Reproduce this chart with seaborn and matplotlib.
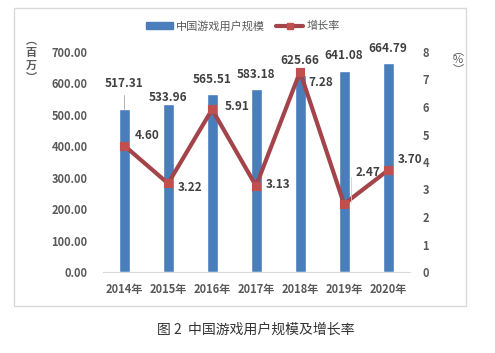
import matplotlib
matplotlib.use("Agg")
import matplotlib.pyplot as plt
import seaborn as sns
import pandas as pd
from matplotlib.patches import Rectangle, Patch
from matplotlib.lines import Line2D

years = ["2014年", "2015年", "2016年", "2017年", "2018年", "2019年", "2020年"]
users = [517.31, 533.96, 565.51, 583.18, 625.66, 641.08, 664.79]
growth = [4.60, 3.22, 5.91, 3.13, 7.28, 2.47, 3.70]
left_ticks = [0, 100, 200, 300, 400, 500, 600, 700]
right_ticks = [0, 1, 2, 3, 4, 5, 6, 7, 8]

sns.set_style("white")
plt.rcParams['font.family'] = ['Noto Sans CJK SC', 'DejaVu Sans']

df = pd.DataFrame({"year": years, "users": users, "growth": growth})

BLUE = "#4A7EBB"
RED_LINE = "#A3444B"
RED_MK = "#C0504D"
TXT = "#595959"
LAB = "#404040"

fig = plt.figure(figsize=(4.95, 3.53), dpi=100)
fig.patch.set_facecolor("white")
fig.patches.append(Rectangle((14/495, 1-306/353), 452/495, 298/353, transform=fig.transFigure,
                             fill=False, edgecolor="#D9D9D9", linewidth=1.0))

ax = fig.add_axes([103/495, 1-272/353, 307/495, 220/353])
sns.barplot(data=df, x="year", y="users", color=BLUE, width=0.25, ax=ax, saturation=1)
ax.set_ylim(0, 700)
ax.set_xlim(-0.48, 6.5)
ax.set_yticks(left_ticks)
ax.set_yticklabels([f"{v:.2f}" for v in left_ticks])
ax.set_xlabel("")
ax.set_ylabel("")
for s in ["top", "right", "left"]:
    ax.spines[s].set_visible(False)
ax.spines["bottom"].set_color("#D9D9D9")
ax.tick_params(axis="y", length=0, labelsize=8, labelcolor=TXT, pad=11)
ax.tick_params(axis="x", length=0, labelsize=8, labelcolor=TXT, pad=8)
for lab in ax.get_xticklabels() + ax.get_yticklabels():
    lab.set_fontweight("bold")
ax.set_xticks([i + 0.5 for i in range(-1, 7)], minor=True)
ax.tick_params(axis="x", which="minor", length=4, color="#D9D9D9", direction="out")

ax2 = ax.twinx()
sns.pointplot(data=df, x="year", y="growth", color=RED_LINE, markers="s", ax=ax2,
              linewidth=3, markersize=5)
for ln in ax2.lines:
    ln.set_markerfacecolor(RED_MK)
    ln.set_markeredgecolor(RED_MK)
ax2.set_ylim(0, 8)
ax2.set_xlim(-0.48, 6.5)
ax2.set_yticks(right_ticks)
ax2.set_ylabel("")
ax2.set_xlabel("")
for s in ["top", "right", "left", "bottom"]:
    ax2.spines[s].set_visible(False)
ax2.tick_params(axis="y", length=0, labelsize=8, labelcolor=TXT, pad=9)
for lab in ax2.get_yticklabels():
    lab.set_fontweight("bold")

# bar value labels (offset of label centre above bar top, points)
bar_off = [19, 5, 10.5, 10, 10.5, 11, 10.5]
for i, v in enumerate(users):
    ax.annotate(f"{v:.2f}", (i, v), xytext=(0, bar_off[i]), textcoords="offset points",
                ha="center", va="center", fontsize=8.5, fontweight="bold", color=LAB)
ax.plot([0, 0], [517.31 + 2, 517.31 + 45], color="#A6A6A6", lw=0.6)

# growth labels
g_off = [(8, 7), (7, -3), (9, 2), (7, 1), (6, -8), (8, 23), (7, 8)]
for i, v in enumerate(growth):
    dx, dy = g_off[i]
    ax2.annotate(f"{v:.2f}", (i, v), xytext=(dx, dy), textcoords="offset points",
                 ha="left", va="center", fontsize=8.5, fontweight="bold", color=LAB)
ax2.plot([5.15, 5.15], [2.55, 3.45], color="#BFD0E6", lw=0.6)

# axis unit labels (vertical)
fig.text(31/495, 1-59/353, "︵\n百\n万\n︶", ha="center", va="center", fontsize=8,
         color=TXT, fontweight="bold", linespacing=0.95)
fig.text(458/495, 1-60/353, "︵\n%\n︶", ha="center", va="center", fontsize=8,
         color=TXT, linespacing=0.9)

# legend
handles = [Patch(facecolor=BLUE, edgecolor=BLUE),
           Line2D([0], [0], color=RED_LINE, lw=3, marker="s", markersize=5,
                  markerfacecolor=RED_MK, markeredgecolor=RED_MK)]
fig.legend(handles, ["中国游戏用户规模", "增长率"], loc="center", bbox_to_anchor=(243/495, 1-26/353),
           ncol=2, frameon=False, fontsize=8, handlelength=2.4, handleheight=0.5,
           columnspacing=1.0, handletextpad=0.3, labelcolor=TXT)

fig.text(256/495, 1-330/353, "图 2  中国游戏用户规模及增长率", ha="center", va="center",
         fontsize=10, color="#333333")

fig.savefig("out.png", dpi=100, facecolor="white")
